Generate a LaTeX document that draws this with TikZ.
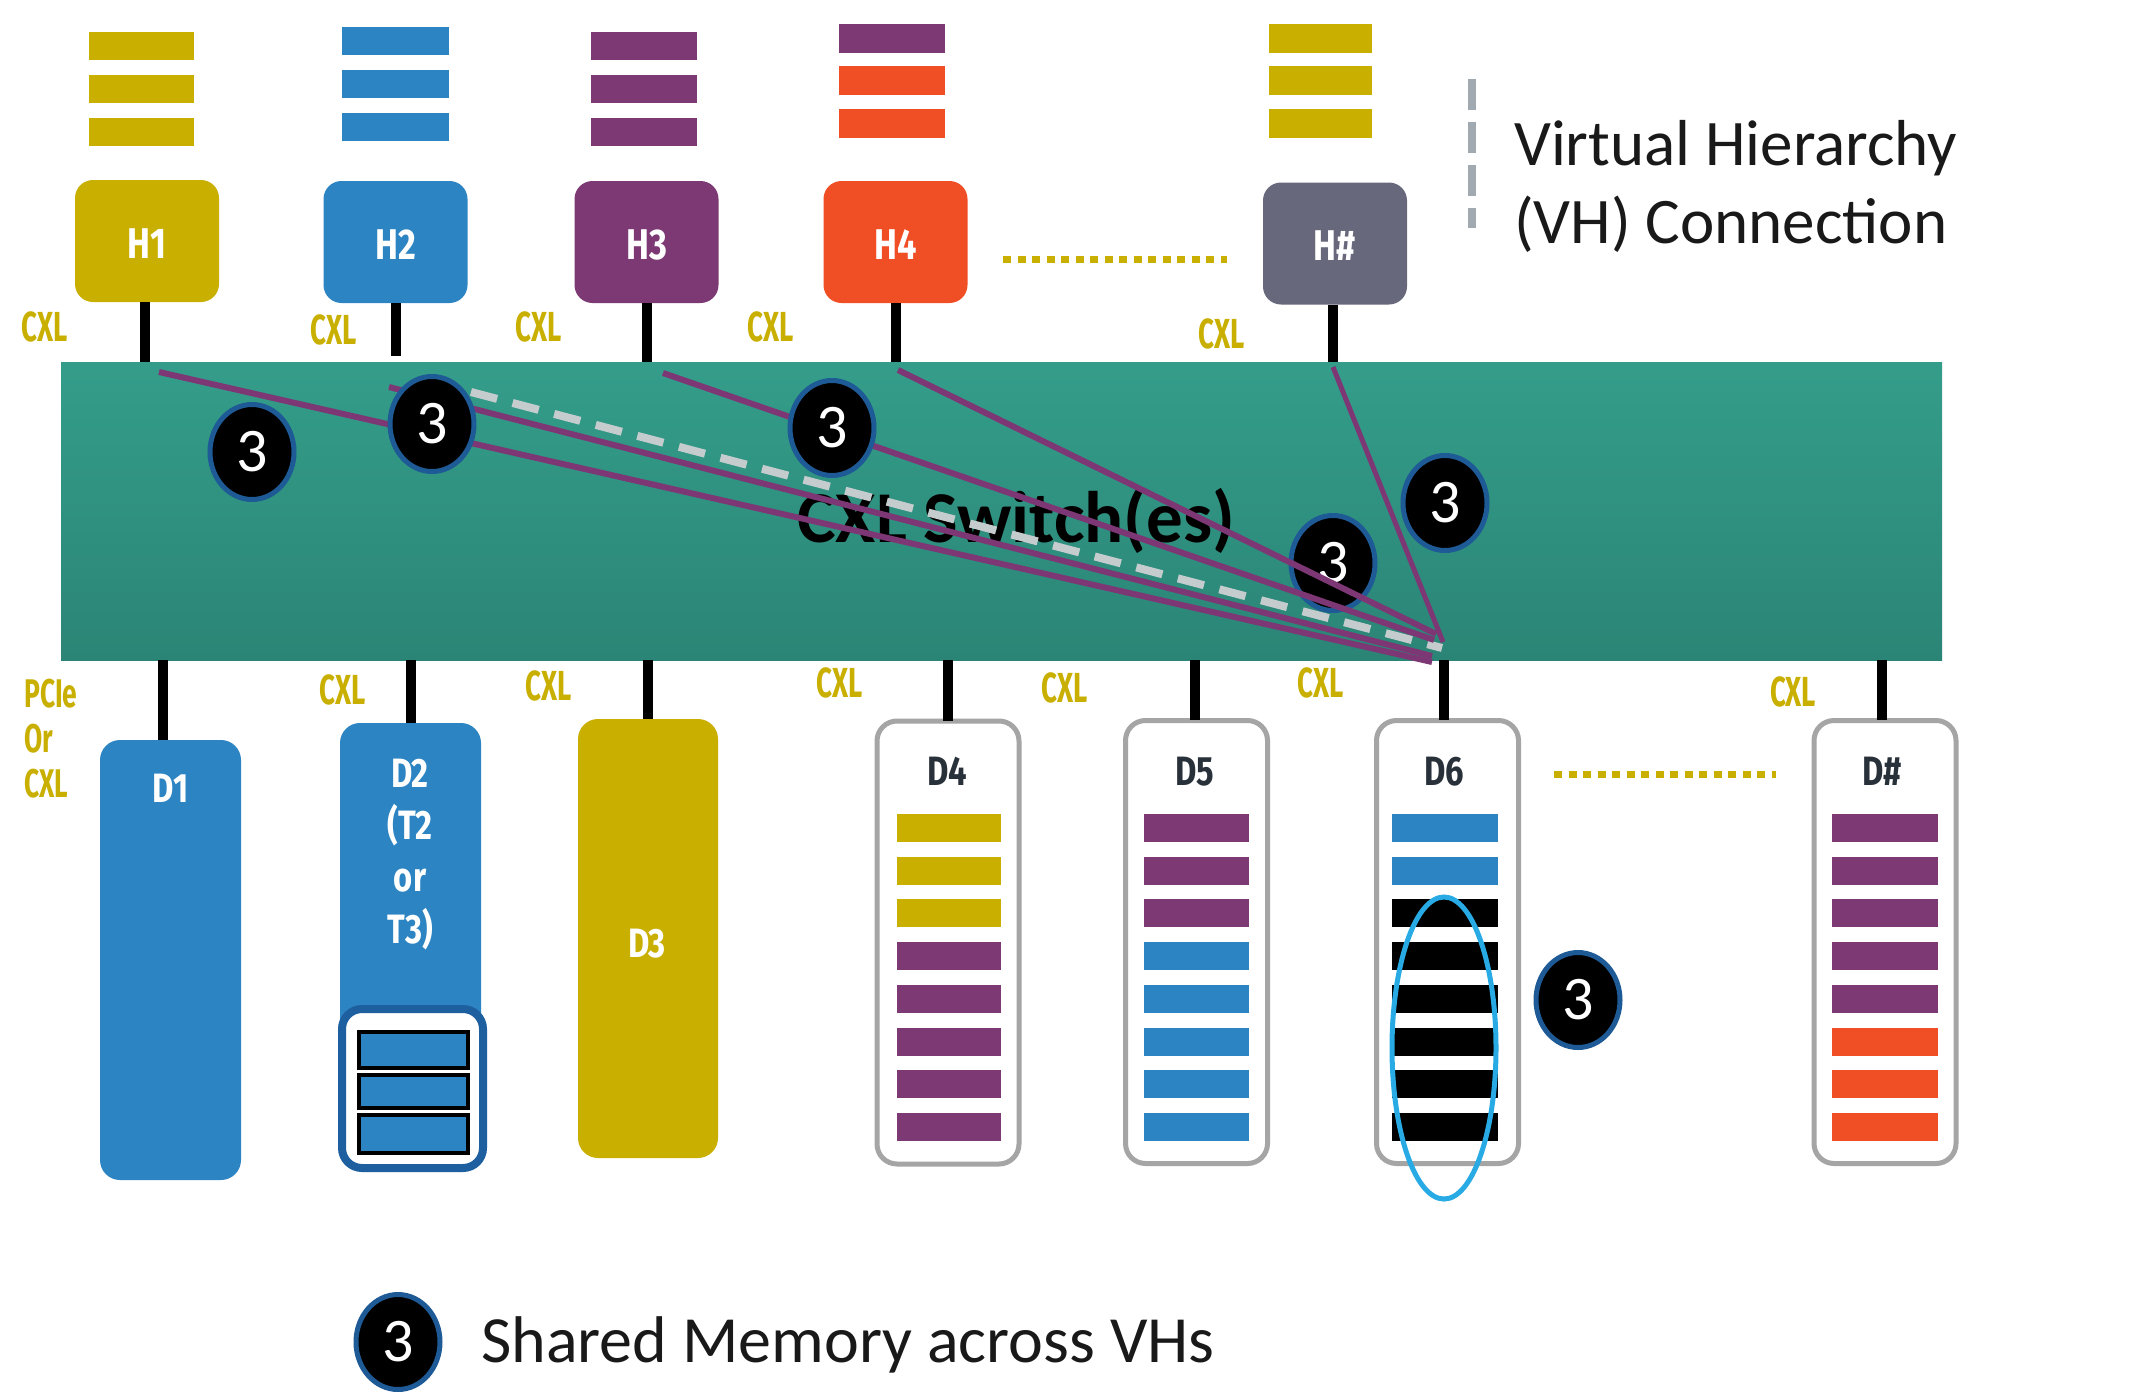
\documentclass[tikz,border=0pt]{standalone}
\usepackage{fontspec}
\setmainfont{Carlito}
\newfontfamily\dinfont[FakeStretch=0.8]{Fira Sans}
\newfontfamily\cxlfont[FakeStretch=0.66]{Fira Sans}
\usetikzlibrary{shapes.geometric}
\definecolor{cgold}{RGB}{201,175,0}
\definecolor{cblue}{RGB}{44,132,194}
\definecolor{cpurple}{RGB}{124,57,115}
\definecolor{corange}{RGB}{240,78,37}
\definecolor{chgray}{RGB}{104,104,124}
\definecolor{tealtop}{RGB}{52,157,138}
\definecolor{tealbot}{RGB}{43,133,118}
\definecolor{lineP}{RGB}{125,55,117}
\definecolor{dashgray}{RGB}{196,204,206}
\definecolor{vhgray}{RGB}{160,170,176}
\definecolor{boxgray}{RGB}{165,165,165}
\definecolor{badgeblue}{RGB}{30,90,150}
\definecolor{dtwoblue}{RGB}{30,95,160}
\definecolor{ellblue}{RGB}{40,170,228}
\definecolor{dtext}{RGB}{40,48,58}
\definecolor{txt}{RGB}{25,25,25}
\tikzset{
  hbox/.style={rounded corners=18pt, inner sep=0pt, minimum width=144pt, minimum height=122pt},
  hlabel/.style={text=white, font=\dinfont\bfseries\fontsize{43}{43}\selectfont, anchor=base, inner sep=0pt},
  dbox/.style={rounded corners=20pt, inner sep=0pt},
  dframe/.style={dbox, fill=white, draw=boxgray, line width=5pt, minimum width=142pt, minimum height=443pt},
  dlabel/.style={font=\dinfont\bfseries\fontsize{41}{52}\selectfont, anchor=base, inner sep=0pt, align=center},
  cxl/.style={text=cgold, font=\cxlfont\bfseries\fontsize{42}{45}\selectfont, inner sep=0pt},
  conn/.style={line width=10pt, black},
  vhline/.style={line width=6pt, lineP},
  badge/.style={ellipse, fill=black, draw=badgeblue, line width=5pt, minimum width=84pt, minimum height=95pt, inner sep=0pt, text=white, font=\fontsize{62}{62}\selectfont},
  dots/.style={cgold, line width=7pt, dash pattern=on 8pt off 6.5pt}
}
\begin{document}
\begin{tikzpicture}[x=1pt,y=-1pt]
\useasboundingbox[fill=white] (0,0) rectangle (2139,1392);

% ---- host memory bars
\foreach \t in {32,75,118} \fill[cgold] (89,\t) rectangle (194,\t+28);
\foreach \t in {27,70,113} \fill[cblue] (342,\t) rectangle (449,\t+28);
\foreach \t in {32,75,118} \fill[cpurple] (591,\t) rectangle (697,\t+28);
\foreach \t/\c in {24/cpurple,66/corange,109/corange} \fill[\c] (839,\t) rectangle (945,\t+29);
\foreach \t in {24,66,109} \fill[cgold] (1269,\t) rectangle (1372,\t+29);

% ---- switch
\node[minimum width=1881pt, minimum height=298pt, inner sep=0pt, top color=tealtop, bottom color=tealbot, shading angle=0] (sw) at (1001.5,511) {};
\node[anchor=base west, inner sep=0pt, font=\bfseries\fontsize{73}{73}\selectfont, text=black] (swt) at (797,542) {CXL Switch(es)};

% ---- hosts
\node[hbox, fill=cgold] (h1) at (147,241) {};
\node[hbox, fill=cblue] (h2) at (395.5,242) {};
\node[hbox, fill=cpurple] (h3) at (646.5,242) {};
\node[hbox, fill=corange] (h4) at (895.5,242) {};
\node[hbox, fill=chgray] (hn) at (1335,243.5) {};
\node[hlabel] (h1t) at (147,258) {H1};
\node[hlabel] (h2t) at (395.5,259) {H2};
\node[hlabel] (h3t) at (646.5,259) {H3};
\node[hlabel] (h4t) at (895.5,259) {H4};
\node[hlabel] (hnt) at (1335,260) {H\#};

\draw[conn] ([xshift=-2pt]h1.south) -- ([xshift=-2pt]h1.south |- sw.north);
\draw[conn] (h2.south) -- ([yshift=6pt]h2.south |- sw.north);
\draw[conn] (h3.south) -- (h3.south |- sw.north);
\draw[conn] (h4.south) -- (h4.south |- sw.north);
\draw[conn] ([xshift=-2pt]hn.south) -- ([xshift=-2pt]hn.south |- sw.north);

\coordinate (hdA) at (1003,259);
\coordinate (hdB) at (1227,259);
\draw[dots] (hdA) -- (hdB);

% top CXL labels
\node[cxl] (c1) at (45,327) {CXL};
\node[cxl] (c2) at (334,330) {CXL};
\node[cxl] (c3) at (539,327) {CXL};
\node[cxl] (c4) at (771,327) {CXL};
\node[cxl] (c5) at (1222,334) {CXL};

% ---- VH connections inside the switch
\node[badge] (b4) at (1333,563) {3};
\coordinate (s1) at (159,372);
\coordinate (s2) at (389,387);
\coordinate (s3) at (663,373);
\coordinate (s4) at (898,370);
\coordinate (s5) at (1333,367);
\coordinate (sd) at (471,392);
\coordinate (e1) at (1432,662);
\coordinate (e2) at (1432,656);
\coordinate (e3) at (1434,640);
\coordinate (e4) at (1436,634);
\coordinate (e5) at (1443,642);
\coordinate (ed) at (1442,648);
\draw[vhline] (s1) -- (e1);
\draw[vhline] (s2) -- (e2);
\draw[dashgray, line width=8pt, dash pattern=on 27pt off 16pt] (sd) -- (ed);
\draw[vhline] (s3) -- (e3);
\draw[vhline] (s4) -- (e4);
\draw[vhline, line width=5pt] (s5) -- (e5);

\node[badge] (b1) at (252,452) {3};
\node[badge] (b2) at (432,424) {3};
\node[badge] (b3) at (832,428) {3};
\node[badge] (b5) at (1445,503) {3};

% ---- devices
\node[dbox, fill=cblue, minimum width=141pt, minimum height=440pt] (d1) at (170.5,960) {};
\node[dbox, fill=cblue, minimum width=141pt, minimum height=447pt] (d2) at (410.5,946.5) {};
\node[dbox, fill=white, draw=dtwoblue, line width=8pt, minimum width=141pt, minimum height=159pt] (d2m) at (412.5,1088.5) {};
\node[dbox, fill=cgold, minimum width=140pt, minimum height=439pt] (d3) at (648,938.5) {};
\node[dframe] (d4) at (948,942.5) {};
\node[dframe] (d5) at (1196.5,942) {};
\node[dframe] (d6) at (1447.5,942) {};
\node[dframe] (dn) at (1885,942) {};

\draw[conn] ([xshift=-8pt]d1.north) -- ([xshift=-8pt]d1.north |- sw.south);
\draw[conn] (d2.north) -- (d2.north |- sw.south);
\draw[conn] (d3.north) -- (d3.north |- sw.south);
\draw[conn] ([yshift=-2pt]d4.north) -- (d4.north |- sw.south);
\draw[conn] ([xshift=-1.5pt,yshift=-2pt]d5.north) -- ([xshift=-1.5pt]d5.north |- sw.south);
\draw[conn] ([xshift=-3.5pt,yshift=-2pt]d6.north) -- ([xshift=-3.5pt]d6.north |- sw.south);
\draw[conn] ([xshift=-3pt,yshift=-2pt]dn.north) -- ([xshift=-3pt]dn.north |- sw.south);

\node[dlabel, text=white] (d1t) at (171,802) {D1};
\node[dlabel, text=white] (d2t) at (410,943) {D2\\(T2\\or\\T3)};
\node[dlabel, text=white] (d3t) at (647,957) {D3};
\node[dlabel, text=dtext] (d4t) at (947,785) {D4};
\node[dlabel, text=dtext] (d5t) at (1195,785) {D5};
\node[dlabel, text=dtext] (d6t) at (1444,785) {D6};
\node[dlabel, text=dtext] (dnt) at (1882,785) {D\#};

% D2 memory
\foreach \t/\b in {1032/1068,1075/1108,1115/1153}
  \filldraw[fill=cblue, draw=black, line width=4pt] (359,\t) rectangle (468,\b);

% device memory bars
\foreach \t/\c in {814/cgold,857/cgold,899/cgold,942/cpurple,985/cpurple,1028/cpurple,1070/cpurple,1113/cpurple}
  \fill[\c] (897,\t) rectangle (1001,\t+28);
\foreach \t/\c in {814/cpurple,857/cpurple,899/cpurple,942/cblue,985/cblue,1028/cblue,1070/cblue,1113/cblue}
  \fill[\c] (1144,\t) rectangle (1249,\t+28);
\foreach \t/\c in {814/cblue,857/cblue,899/black,942/black,985/black,1028/black,1070/black,1113/black}
  \fill[\c] (1392,\t) rectangle (1498,\t+28);
\foreach \t/\c in {814/cpurple,857/cpurple,899/cpurple,942/cpurple,985/cpurple,1028/corange,1070/corange,1113/corange}
  \fill[\c] (1832,\t) rectangle (1938,\t+28);

\node[ellipse, draw=ellblue, line width=5pt, minimum width=104pt, minimum height=302pt, inner sep=0pt] (shared) at (1444,1048) {};
\node[badge] (b6) at (1578,1000) {3};

\coordinate (ddA) at (1554,774);
\coordinate (ddB) at (1776,774);
\draw[dots] (ddA) -- (ddB);

% bottom CXL labels
\node[cxl, anchor=base west, align=left, font=\cxlfont\bfseries\fontsize{40}{45}\selectfont] (cp) at (24,797) {PCIe\\Or\\CXL};
\node[cxl] (c6) at (343,690) {CXL};
\node[cxl] (c7) at (549,686) {CXL};
\node[cxl] (c8) at (840,683) {CXL};
\node[cxl] (c9) at (1065,688) {CXL};
\node[cxl] (c10) at (1321,683) {CXL};
\node[cxl] (c11) at (1793,692) {CXL};

% ---- legends
\coordinate (lgA) at (1472,79);
\coordinate (lgB) at (1472,228);
\draw[vhgray, line width=8pt, dash pattern=on 31pt off 12pt] (lgA) -- (lgB);
\node[anchor=base west, align=left, inner sep=0pt, text=txt, font=\fontsize{65}{78}\selectfont] (vh) at (1514,243) {Virtual Hierarchy\\(VH) Connection};

\node[badge] (bl) at (398,1342) {3};
\node[anchor=base west, inner sep=0pt, text=txt, font=\fontsize{66}{66}\selectfont] (sm) at (481,1362) {Shared Memory across VHs};
\end{tikzpicture}
\end{document}
